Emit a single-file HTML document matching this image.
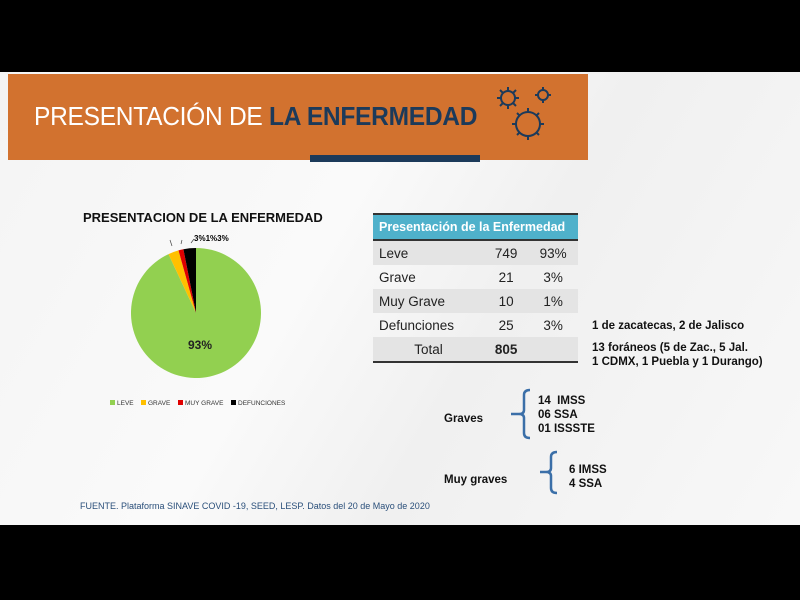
<!DOCTYPE html>
<html><head><meta charset="utf-8"><style>
body{margin:0;width:800px;height:600px;background:#000;position:relative;overflow:hidden;font-family:"Liberation Sans",sans-serif}
.slide{position:absolute;left:0;top:72px;width:800px;height:453px;background:linear-gradient(120deg,#f4f4f4,#fafafa 40%,#f0f0f0 60%,#f8f8f8)}
.hdr{position:absolute;left:8px;top:74px;width:580px;height:86px;background:#d2722f}
.ttl{position:absolute;left:34px;top:101px;font-size:26px;color:#fff;letter-spacing:-0.3px;transform:scaleX(0.944);transform-origin:left;white-space:nowrap}
.ttl b{color:#1c3a5a}
.bar{position:absolute;left:310px;top:155px;width:170px;height:7px;background:#1c3a5a}
.t{position:absolute;white-space:nowrap}
table{position:absolute;left:373px;top:213px;width:205px;border-collapse:collapse;font-size:13.5px;color:#222;border-top:2px solid #333;border-bottom:2px solid #333}
td{height:24px;padding:0 6px;white-space:nowrap}
th{background:#4fb1cb;color:#fff;height:24px;font-size:12.5px;text-align:left;padding:0 6px;border-bottom:2px solid #333;white-space:nowrap}
tr.g td{background:#e4e4e4}
.b{font-weight:bold;font-size:11.5px;color:#111}
</style></head><body>
<div class="slide"></div>
<div class="hdr"></div>
<div class="ttl">PRESENTACIÓN DE <b>LA ENFERMEDAD</b></div>
<svg style="position:absolute;left:490px;top:84px" width="70" height="66">
<g fill="none" stroke="#1c3a5a" stroke-width="2">
<circle cx="18" cy="14" r="7"/><circle cx="53" cy="11" r="5"/><circle cx="38" cy="40" r="12"/>
<path d="M18 3v4M18 21v4M7 14h4M25 14h4M10 6l3 3M26 6l-3 3M10 22l3-3M26 22l-3-3M53 3v3M53 16v3M45 11h3M58 11h3M38 24v4M38 52v4M22 40h4M50 40h4M27 29l3 3M49 29l-3 3M27 51l3-3M49 51l-3-3"/>
</g></svg>
<div class="bar"></div>
<div class="t" style="left:83px;top:210px;font-size:13px;font-weight:bold;color:#111">PRESENTACION DE LA ENFERMEDAD</div>
<svg style="position:absolute;left:0;top:0" width="800" height="600">
<path d="M196 313 L196 248 A65 65 0 1 1 168.5 254.1Z" fill="#92d050"/>
<path d="M196 313 L168.5 254.1 A65 65 0 0 1 178.5 250.4Z" fill="#ffc000"/>
<path d="M196 313 L178.5 250.4 A65 65 0 0 1 183.4 249.2Z" fill="#e00000"/>
<path d="M196 313 L183.4 249.2 A65 65 0 0 1 196 248Z" fill="#000"/>
<path d="M172 246l-2-6M181 244l1-4M191 243l3-4" stroke="#444" stroke-width="0.7"/>
<text x="194" y="241" font-size="8" font-weight="bold" font-family="Liberation Sans">3%1%3%</text>
<text x="188" y="349" font-size="12" font-weight="bold" font-family="Liberation Sans" fill="#222">93%</text>
<g font-size="6.5" font-family="Liberation Sans" fill="#333">
<rect x="110" y="400" width="5" height="5" fill="#92d050"/><text x="117" y="405">LEVE</text>
<rect x="141" y="400" width="5" height="5" fill="#ffc000"/><text x="148" y="405">GRAVE</text>
<rect x="178" y="400" width="5" height="5" fill="#e00000"/><text x="185" y="405">MUY GRAVE</text>
<rect x="231" y="400" width="5" height="5" fill="#000"/><text x="238" y="405">DEFUNCIONES</text>
</g>
<g fill="none" stroke="#3b6fa8" stroke-width="2.5">
<path d="M530 390 q-6 0 -6 5 v15 q0 4 -5 4 h-8 M519 414 q5 0 5 4 v15 q0 5 6 5"/>
<path d="M557 452 q-6 0 -6 5 v11 q0 4 -5 4 h-6 M546 472 q5 0 5 4 v12 q0 5 6 5"/>
</g>
</svg>
<table>
<tr><th colspan="3">Presentación de la Enfermedad</th></tr>
<tr class="g"><td>Leve</td><td style="text-align:center">749</td><td style="text-align:center">93%</td></tr>
<tr><td>Grave</td><td style="text-align:center">21</td><td style="text-align:center">3%</td></tr>
<tr class="g"><td>Muy Grave</td><td style="text-align:center">10</td><td style="text-align:center">1%</td></tr>
<tr><td>Defunciones</td><td style="text-align:center">25</td><td style="text-align:center">3%</td></tr>
<tr class="g"><td style="text-align:center">Total</td><td style="text-align:center;font-weight:bold">805</td><td></td></tr>
</table>
<div class="t b" style="left:592px;top:320px">1 de zacatecas, 2 de Jalisco</div>
<div class="t b" style="left:592px;top:341px;line-height:14px">13 foráneos (5 de Zac., 5 Jal.<br>1 CDMX, 1 Puebla y 1 Durango)</div>
<div class="t b" style="left:444px;top:413px">Graves</div>
<div class="t b" style="left:538px;top:394px;line-height:14px">14&nbsp; IMSS<br>06 SSA<br>01 ISSSTE</div>
<div class="t b" style="left:444px;top:474px">Muy graves</div>
<div class="t b" style="left:569px;top:463px;line-height:14px">6 IMSS<br>4 SSA</div>
<div class="t" style="left:80px;top:501px;font-size:9px;color:#2a4f7a">FUENTE. Plataforma SINAVE COVID -19, SEED, LESP. Datos del 20 de Mayo de 2020</div>
</body></html>
